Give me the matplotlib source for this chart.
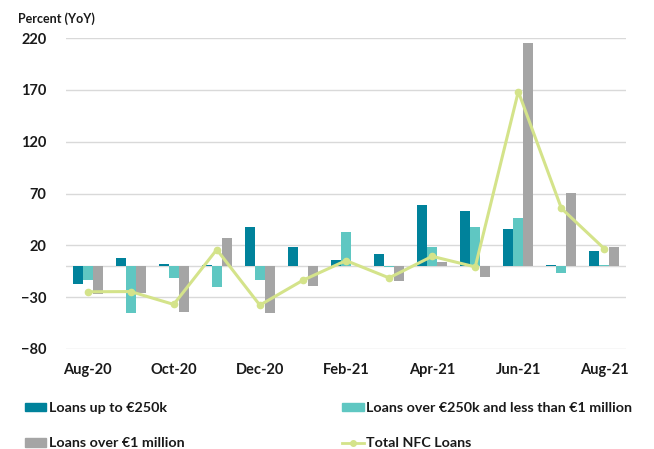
import matplotlib
matplotlib.use("Agg")
import matplotlib.pyplot as plt
import numpy as np
from matplotlib.patches import Patch
from matplotlib.lines import Line2D

plt.rcParams['font.family'] = ['Lato', 'DejaVu Sans']
plt.rcParams['font.weight'] = 'bold'

months = ["Aug-20", "Sep-20", "Oct-20", "Nov-20", "Dec-20", "Jan-21", "Feb-21",
          "Mar-21", "Apr-21", "May-21", "Jun-21", "Jul-21", "Aug-21"]
loans_upto_250k = [-17, 8, 2.4, 1.4, 37.4, 18.5, 6.3, 12, 58.9, 52.8, 35.4, 1.5, 14.6]
loans_250k_1m = [-13.7, -45.4, -11.7, -20, -13.7, 0.5, 32.9, -1, 18.5, 38, 46.4, -6.9, 1]
loans_over_1m = [-27.4, -25.8, -44.5, 26.8, -45, -19.4, 0, -14, 4, -10.8, 215, 70.5, 18.8]
total_nfc = [-24.8, -24.6, -37, 15.9, -37.7, -13.7, 5.3, -11.4, 9.4, -0.8, 168.3, 55.7, 16.6]

c_dark = "#00829B"
c_teal = "#5FC7C2"
c_gray = "#A5A5A5"
c_line = "#D4E38A"

fig = plt.figure(figsize=(6.54, 4.49), dpi=100)
ax = fig.add_axes([66/654, 1-349/449, 560/654, 311/449])

x = np.arange(len(months))
w = 0.232
ax.bar(x - w, loans_upto_250k, w, color=c_dark, zorder=2)
ax.bar(x, loans_250k_1m, w, color=c_teal, zorder=2)
ax.bar(x + w, loans_over_1m, w, color=c_gray, zorder=2)
ax.plot(x, total_nfc, color=c_line, lw=2.2, marker='o', ms=4.5, zorder=3)

ax.set_xlim(-0.5, len(months) - 0.5)
ax.set_ylim(-80, 220)
ax.set_yticks(np.arange(-80, 221, 50))
ax.yaxis.grid(True, color="#D9D9D9", lw=1)
ax.axhline(0, color="#D9D9D9", lw=1, zorder=1)
ax.set_axisbelow(True)
for s in ax.spines.values():
    s.set_visible(False)
ax.tick_params(axis='both', length=0, labelsize=10.5)
ax.tick_params(axis='y', pad=14)
ax.tick_params(axis='x', pad=10)
ax.set_xticks(x[::2])
ax.set_xticklabels(months[::2])
for lab in ax.get_xticklabels() + ax.get_yticklabels():
    lab.set_fontweight('bold')
    lab.set_color('#1a1a1a')

fig.text(18/654, 1-19/449, "Percent (YoY)", fontsize=9, fontweight='bold',
         va='center', ha='left', color='#1a1a1a')

handles = [Patch(color=c_dark), Patch(color=c_gray), Patch(color=c_teal),
           Line2D([0], [0], color=c_line, lw=2, marker='o', ms=4)]
labels = ["Loans up to €250k", "Loans over €1 million",
          "Loans over €250k and less than €1 million", "Total NFC Loans"]
leg = fig.legend(handles, labels, ncol=2, loc='upper left',
                 bbox_to_anchor=(12/654, 1-389/449), frameon=False,
                 fontsize=10.3, handlelength=1.5, handleheight=0.55,
                 handletextpad=0.2, columnspacing=11.0, labelspacing=1.65)
for t in leg.get_texts():
    t.set_fontweight('bold')
    t.set_color('#1a1a1a')

fig.savefig("out.png", dpi=100)
